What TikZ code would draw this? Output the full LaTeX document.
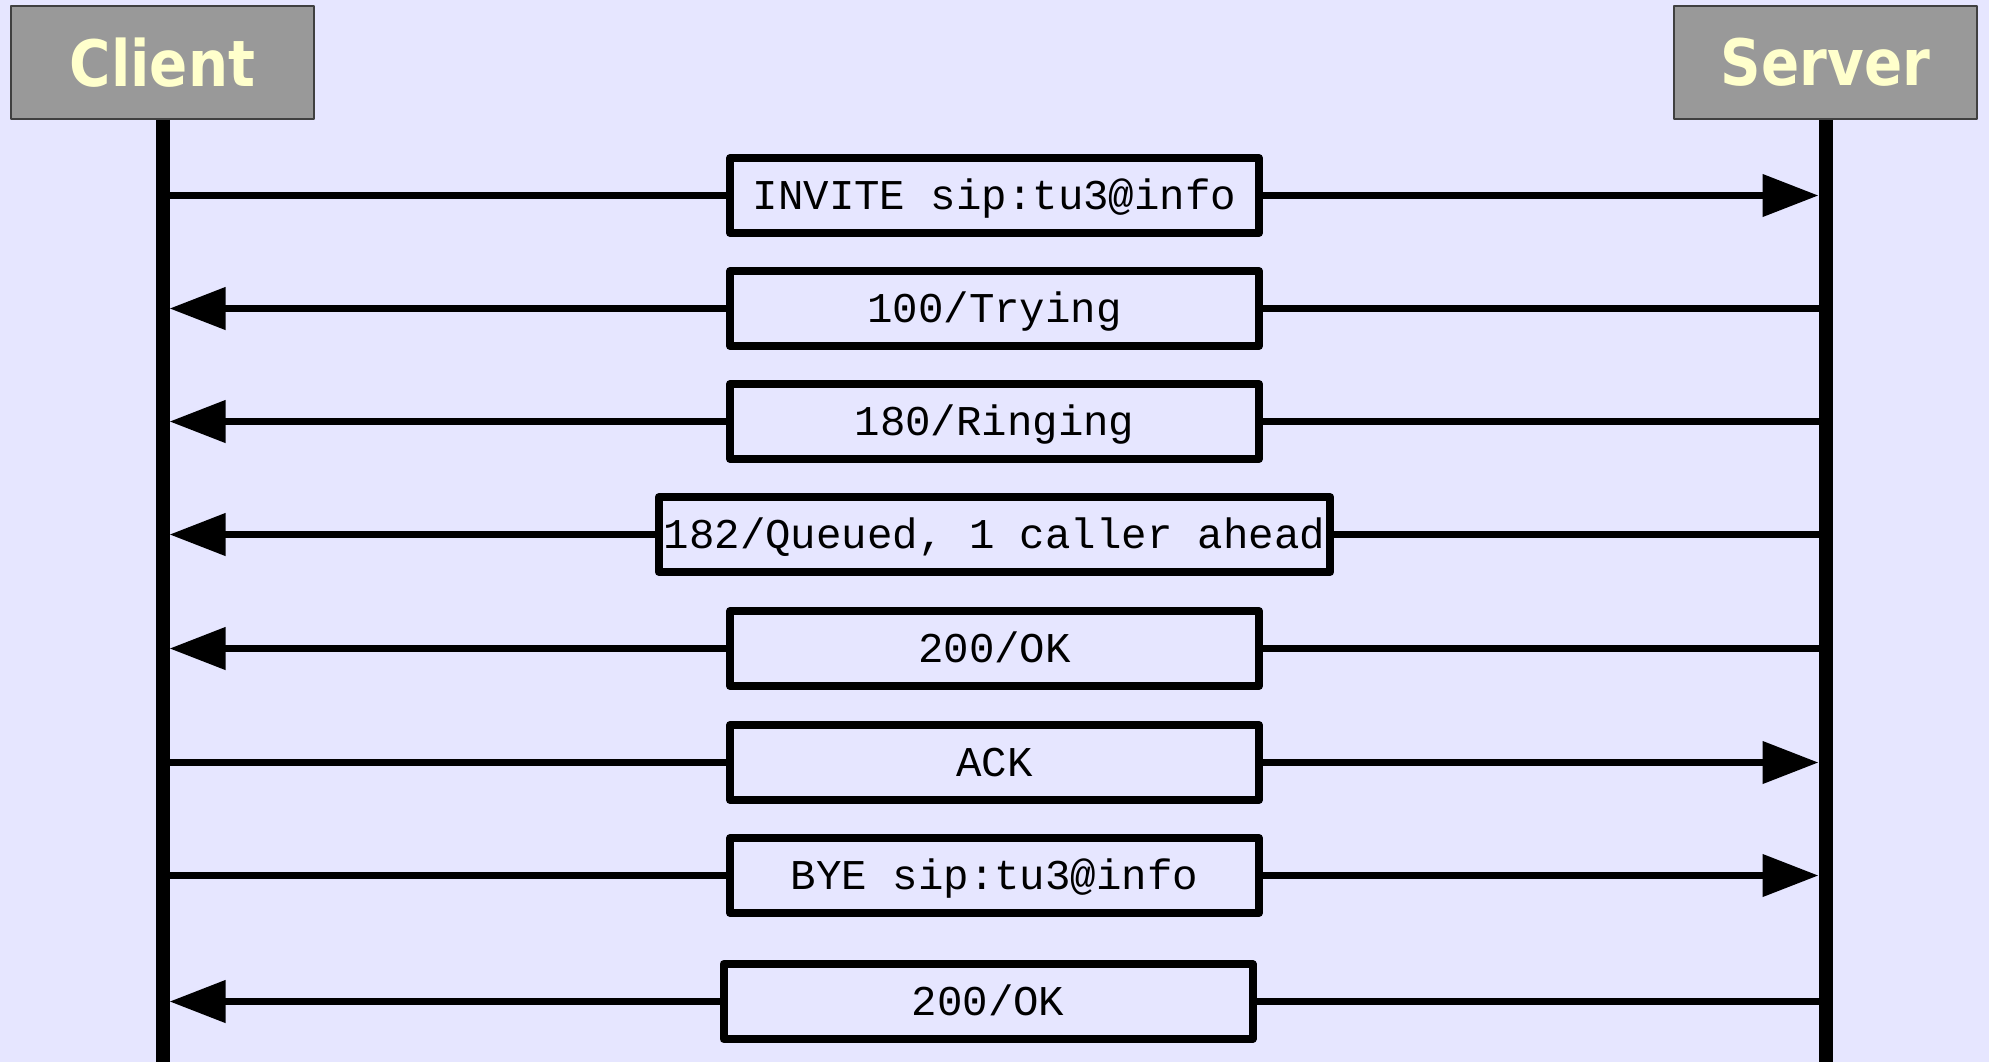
\documentclass[tikz,border=0pt]{standalone}
\usepackage{fontspec}
\setmonofont{Liberation Mono}
\newfontfamily\headfont[FakeStretch=0.88]{DejaVu Sans}
\usetikzlibrary{arrows.meta}
\definecolor{bg}{RGB}{230,230,255}
\definecolor{headgray}{RGB}{153,153,153}
\definecolor{headtext}{RGB}{255,255,204}
\tikzset{
  actor/.style={draw=black!75,line width=0.75pt,fill=headgray,minimum width=151.5pt,minimum height=56.5pt,
    font=\headfont\bfseries\fontsize{32}{32}\selectfont,text=headtext},
  msgbox/.style={draw,line width=4pt,fill=bg,minimum width=264.5pt,minimum height=37.5pt,inner xsep=2.5pt,
    text height=13.5pt,text depth=0pt,font=\ttfamily\fontsize{21.2}{24}\selectfont},
  lifeline/.style={line width=7pt},
  wire/.style={line width=3.75pt},
  call/.style={wire,-{Triangle[length=28pt,width=20.5pt]},shorten >=3.5pt}
}
\begin{document}
\begin{tikzpicture}[x=0.5pt,y=-0.5pt,line join=round]
\fill[bg] (0,0) rectangle (1989,1062);
\useasboundingbox (0,0) rectangle (1989,1062);
% lifelines
\node[actor] (client) at (162.5,62.5) {Client};
\node[actor] (server) at (1825.5,62.5) {Server};
\coordinate (cend) at (162.5,1062);
\coordinate (send) at (1825.5,1062);
\draw[lifeline] (client.south)--(cend);
\draw[lifeline] (server.south)--(send);
% messages
\node[msgbox] (invite) at (994.5,195.5) {INVITE sip:tu3@info};
\node[msgbox] (trying) at (994.5,308.5) {100/Trying};
\node[msgbox] (ringing) at (994.5,421.5) {180/Ringing};
\node[msgbox] (queued) at (994.5,534.5) {182/Queued, 1 caller ahead};
\node[msgbox] (ok) at (994.5,648.5) {200/OK};
\node[msgbox] (ack) at (994.5,762.5) {ACK};
\node[msgbox] (bye) at (994.5,875.5) {BYE sip:tu3@info};
\node[msgbox] (byeok) at (988,1001.5) {200/OK};
\foreach \m in {invite,ack,bye}{
  \draw[wire] (client|-\m)--(\m.west);
  \draw[call] (\m.east)--(server|-\m);
}
\foreach \m in {trying,ringing,queued,ok,byeok}{
  \draw[wire] (server|-\m)--(\m.east);
  \draw[call] (\m.west)--(client|-\m);
}
\end{tikzpicture}
\end{document}
